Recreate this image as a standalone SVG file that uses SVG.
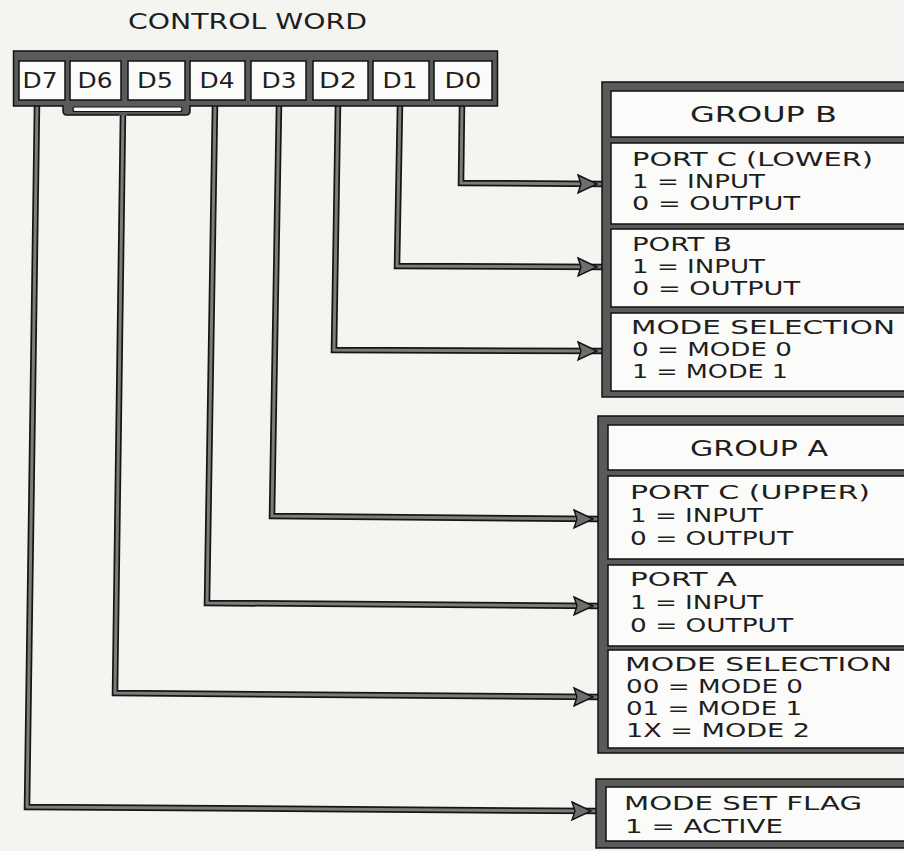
<svg xmlns="http://www.w3.org/2000/svg" xmlns:xlink="http://www.w3.org/1999/xlink" width="904" height="851" viewBox="0 0 904 851">
<style>
.bg{fill:#f4f4f1}
.frame{fill:#5a5a5a;stroke:#111;stroke-width:1.5}
.cell{fill:#fbfbf9;stroke:#111;stroke-width:1.5}
.t{font-family:"DejaVu Sans",sans-serif;font-size:20px;fill:#1e1e1e}
.tb{font-family:"DejaVu Sans",sans-serif;font-size:22px;fill:#1e1e1e}
.wo{fill:none;stroke:#151515;stroke-width:6.5;stroke-linejoin:miter;stroke-linecap:butt}
.wi{fill:none;stroke:#7c7c7c;stroke-width:3;stroke-linejoin:miter;stroke-linecap:butt}
.ah{fill:#6e6e6e;stroke:#111;stroke-width:1.4;stroke-linejoin:miter}
</style>
<defs>
<path id="w0" d="M462,104 L461,183 L603,184"/>
<path id="w1" d="M400,104 L397,266 L603,267"/>
<path id="w2" d="M338,104 L334,350 L603,351"/>
<path id="w3" d="M279,104 L272,516 L599,519"/>
<path id="w4" d="M215,104 L207,603 L599,606"/>
<path id="w5" d="M123,112 L115,693 L599,697"/>
<path id="w7" d="M37,104 L27,807 L597,811"/>
<polygon id="ah" points="-19,-9 0,0 -19,9 -16,0"/>
</defs>
<rect class="bg" x="0" y="0" width="904" height="851"/>

<g id="connectors">
<g class="wo">
<use xlink:href="#w0"/><use xlink:href="#w1"/><use xlink:href="#w2"/><use xlink:href="#w3"/><use xlink:href="#w4"/><use xlink:href="#w5"/><use xlink:href="#w7"/>
</g>
<g class="wi">
<use xlink:href="#w0"/><use xlink:href="#w1"/><use xlink:href="#w2"/><use xlink:href="#w3"/><use xlink:href="#w4"/><use xlink:href="#w5"/><use xlink:href="#w7"/>
</g>
<g class="ah">
<use xlink:href="#ah" x="597" y="184"/>
<use xlink:href="#ah" x="597" y="267"/>
<use xlink:href="#ah" x="597" y="351"/>
<use xlink:href="#ah" x="593" y="519"/>
<use xlink:href="#ah" x="593" y="606"/>
<use xlink:href="#ah" x="593" y="697"/>
<use xlink:href="#ah" x="591" y="811"/>
</g>
</g>

<g id="control-word">
<text class="tb" x="128" y="29" textLength="239" lengthAdjust="spacingAndGlyphs">CONTROL WORD</text>
<rect class="frame" x="13.5" y="51" width="484" height="55"/>
<path d="M63,104 L63,111 Q63,115 67,115 L186,115 Q190,115 190,111 L190,104 Z" fill="#5a5a5a"/>
<path d="M63,105.5 L63,111 Q63,115 67,115 L119.5,115 M126.5,115 L186,115 Q190,115 190,111 L190,105.5" fill="none" stroke="#111" stroke-width="1.5"/>
<rect x="73" y="107" width="109" height="4.5" rx="2" fill="#fbfbf9" stroke="#111" stroke-width="1.2"/>
</g>
<g id="bit-D7"><rect class="cell" x="19" y="61" width="46" height="39"/><text class="tb" x="40" y="88" text-anchor="middle" textLength="35" lengthAdjust="spacingAndGlyphs">D7</text></g>
<g id="bit-D6"><rect class="cell" x="70" y="61" width="51" height="39"/><text class="tb" x="95" y="88" text-anchor="middle" textLength="35" lengthAdjust="spacingAndGlyphs">D6</text></g>
<g id="bit-D5"><rect class="cell" x="128" y="61" width="57" height="39"/><text class="tb" x="155" y="88" text-anchor="middle" textLength="36" lengthAdjust="spacingAndGlyphs">D5</text></g>
<g id="bit-D4"><rect class="cell" x="190" y="61" width="55" height="39"/><text class="tb" x="217" y="88" text-anchor="middle" textLength="35" lengthAdjust="spacingAndGlyphs">D4</text></g>
<g id="bit-D3"><rect class="cell" x="251" y="61" width="55" height="39"/><text class="tb" x="279" y="88" text-anchor="middle" textLength="35" lengthAdjust="spacingAndGlyphs">D3</text></g>
<g id="bit-D2"><rect class="cell" x="313" y="61" width="55" height="39"/><text class="tb" x="338" y="88" text-anchor="middle" textLength="38" lengthAdjust="spacingAndGlyphs">D2</text></g>
<g id="bit-D1"><rect class="cell" x="373" y="61" width="56" height="39"/><text class="tb" x="400" y="88" text-anchor="middle" textLength="35" lengthAdjust="spacingAndGlyphs">D1</text></g>
<g id="bit-D0"><rect class="cell" x="434" y="61" width="58" height="39"/><text class="tb" x="463" y="88" text-anchor="middle" textLength="37" lengthAdjust="spacingAndGlyphs">D0</text></g>

<g id="group-b">
<rect class="frame" x="602" y="82" width="330" height="315"/>
<g id="group-b-header"><rect class="cell" x="611" y="91" width="320" height="46"/>
<text class="tb" x="690" y="122" textLength="147" lengthAdjust="spacingAndGlyphs">GROUP B</text></g>
<g id="port-c-lower"><rect class="cell" x="611" y="143" width="320" height="81"/>
<text class="t" x="632" y="166" textLength="241" lengthAdjust="spacingAndGlyphs">PORT C (LOWER)</text>
<text class="t" x="632" y="188" textLength="133" lengthAdjust="spacingAndGlyphs">1 = INPUT</text>
<text class="t" x="632" y="210" textLength="168" lengthAdjust="spacingAndGlyphs">0 = OUTPUT</text></g>
<g id="port-b"><rect class="cell" x="611" y="229" width="320" height="78"/>
<text class="t" x="632" y="251" textLength="100" lengthAdjust="spacingAndGlyphs">PORT B</text>
<text class="t" x="632" y="273" textLength="133" lengthAdjust="spacingAndGlyphs">1 = INPUT</text>
<text class="t" x="632" y="295" textLength="168" lengthAdjust="spacingAndGlyphs">0 = OUTPUT</text></g>
<g id="mode-b"><rect class="cell" x="611" y="313" width="320" height="78"/>
<text class="t" x="631" y="334" textLength="264" lengthAdjust="spacingAndGlyphs">MODE SELECTION</text>
<text class="t" x="632" y="356" textLength="160" lengthAdjust="spacingAndGlyphs">0 = MODE 0</text>
<text class="t" x="632" y="378" textLength="156" lengthAdjust="spacingAndGlyphs">1 = MODE 1</text></g>
</g>

<g id="group-a">
<rect class="frame" x="598" y="416" width="330" height="337"/>
<g id="group-a-header"><rect class="cell" x="608" y="425" width="320" height="45"/>
<text class="tb" x="690" y="456" textLength="138" lengthAdjust="spacingAndGlyphs">GROUP A</text></g>
<g id="port-c-upper"><rect class="cell" x="608" y="476" width="320" height="83"/>
<text class="t" x="630" y="499" textLength="240" lengthAdjust="spacingAndGlyphs">PORT C (UPPER)</text>
<text class="t" x="630" y="522" textLength="133" lengthAdjust="spacingAndGlyphs">1 = INPUT</text>
<text class="t" x="630" y="545" textLength="163" lengthAdjust="spacingAndGlyphs">0 = OUTPUT</text></g>
<g id="port-a"><rect class="cell" x="608" y="565" width="320" height="81"/>
<text class="t" x="630" y="586" textLength="107" lengthAdjust="spacingAndGlyphs">PORT A</text>
<text class="t" x="630" y="609" textLength="133" lengthAdjust="spacingAndGlyphs">1 = INPUT</text>
<text class="t" x="630" y="632" textLength="163" lengthAdjust="spacingAndGlyphs">0 = OUTPUT</text></g>
<g id="mode-a"><rect class="cell" x="608" y="650" width="320" height="98"/>
<text class="t" x="625" y="671" textLength="267" lengthAdjust="spacingAndGlyphs">MODE SELECTION</text>
<text class="t" x="626" y="693" textLength="177" lengthAdjust="spacingAndGlyphs">00 = MODE 0</text>
<text class="t" x="626" y="715" textLength="176" lengthAdjust="spacingAndGlyphs">01 = MODE 1</text>
<text class="t" x="626" y="737" textLength="184" lengthAdjust="spacingAndGlyphs">1X = MODE 2</text></g>
</g>

<g id="mode-set-flag">
<rect class="frame" x="596" y="779" width="330" height="69"/>
<rect class="cell" x="606" y="787" width="320" height="54"/>
<text class="t" x="624" y="810" textLength="238" lengthAdjust="spacingAndGlyphs">MODE SET FLAG</text>
<text class="t" x="625" y="833" textLength="158" lengthAdjust="spacingAndGlyphs">1 = ACTIVE</text>
</g>
</svg>
